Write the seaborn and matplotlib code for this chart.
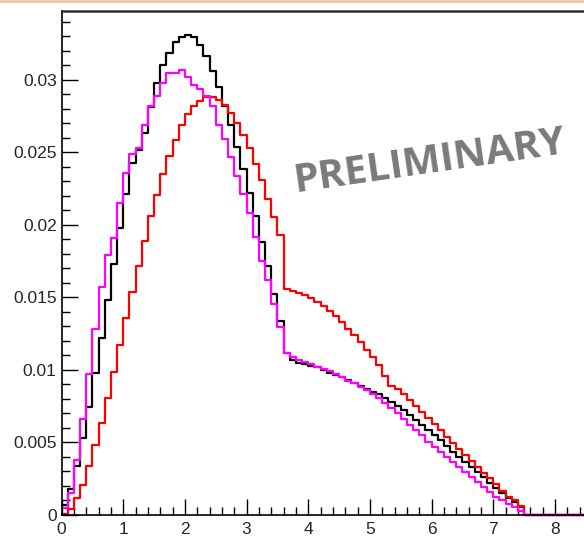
import numpy as np
import pandas as pd
import matplotlib
matplotlib.use("Agg")
import matplotlib.pyplot as plt
import seaborn as sns
from matplotlib.ticker import MultipleLocator, FixedLocator
from matplotlib.patches import Rectangle

# ---------------- data (bin contents, bin width 0.1 starting at 0) ----------------
bin_start = 0.0
bin_width = 0.1

black_vals = [
    0.0007, 0.00178, 0.00335, 0.00529, 0.00745, 0.0098, 0.0122, 0.0148, 0.01733, 0.01977,
    0.02214, 0.0243, 0.02517, 0.02632, 0.02816, 0.02977, 0.0310, 0.03185, 0.03264, 0.03299,
    0.0331, 0.03295, 0.0324, 0.03165, 0.0306, 0.02954, 0.02822, 0.0269, 0.02536, 0.02384,
    0.02223, 0.02062, 0.01885, 0.01715, 0.01524, 0.0134, 0.0112, 0.01069, 0.0105, 0.01039,
    0.01028, 0.01018, 0.01002, 0.0098, 0.00966, 0.00949, 0.00931, 0.00908, 0.0089, 0.00867,
    0.00851, 0.00832, 0.00805, 0.00782, 0.00752, 0.00724, 0.0069, 0.00655, 0.00621, 0.00586,
    0.00552, 0.00517, 0.00476, 0.00437, 0.00402, 0.00368, 0.00333, 0.00299, 0.00264, 0.00223,
    0.00184, 0.00149, 0.00115, 0.00092, 0.00057,
    0.0, 0.0, 0.0, 0.0, 0.0, 0.0, 0.0, 0.0, 0.0, 0.0,
]

magenta_vals = [
    0.00046, 0.00155, 0.0038, 0.0066, 0.0097, 0.0128, 0.0157, 0.0179, 0.0191, 0.0215,
    0.0236, 0.0249, 0.0253, 0.0269, 0.0282, 0.0289, 0.0298, 0.0305, 0.0305, 0.0307,
    0.0302, 0.02966, 0.0294, 0.0289, 0.0282, 0.0269, 0.0259, 0.0247, 0.0234, 0.0221,
    0.0208, 0.0192, 0.0175, 0.0162, 0.01453, 0.01294, 0.0112, 0.01087, 0.0107, 0.01057,
    0.01041, 0.0102, 0.0101, 0.00995, 0.00972, 0.00949, 0.00926, 0.00908, 0.00885, 0.00862,
    0.00835, 0.00805, 0.0077, 0.00736, 0.00701, 0.00664, 0.00621, 0.00586, 0.00552, 0.00506,
    0.00471, 0.00437, 0.00402, 0.00368, 0.00333, 0.00299, 0.00264, 0.0023, 0.00195, 0.00161,
    0.00126, 0.00103, 0.00076, 0.00057, 0.0003,
    0.0, 0.0, 0.0, 0.0, 0.0, 0.0, 0.0, 0.0, 0.0, 0.0,
]

red_vals = [
    0.0001, 0.0004, 0.00115, 0.0021, 0.00335, 0.0048, 0.00637, 0.00805, 0.00989, 0.0117,
    0.01356, 0.0154, 0.01717, 0.01892, 0.0206, 0.02207, 0.02352, 0.02476, 0.02586, 0.0269,
    0.02763, 0.02823, 0.02855, 0.0288, 0.02885, 0.02862, 0.02828, 0.02775, 0.02706, 0.02621,
    0.02529, 0.02421, 0.0231, 0.02177, 0.02057, 0.01931, 0.01556, 0.01545, 0.01533, 0.01517,
    0.01494, 0.01471, 0.01441, 0.01405, 0.01372, 0.0133, 0.01285, 0.01239, 0.01195, 0.0114,
    0.0109, 0.01037, 0.00959, 0.0089, 0.00867, 0.00834, 0.00793, 0.00752, 0.00713, 0.00667,
    0.00628, 0.00586, 0.0054, 0.00499, 0.00453, 0.00414, 0.00372, 0.00333, 0.00292, 0.00253,
    0.00212, 0.00168, 0.00126, 0.00103, 0.00062,
    0.0, 0.0, 0.0, 0.0, 0.0, 0.0, 0.0, 0.0, 0.0, 0.0,
]

series_names = ["black", "red", "magenta"]
series_colors = ["#000000", "#ff0000", "#ff00ff"]

x_ticks = [0, 1, 2, 3, 4, 5, 6, 7, 8]
x_tick_labels = ["0", "1", "2", "3", "4", "5", "6", "7", "8"]
y_ticks = [0, 0.005, 0.01, 0.015, 0.02, 0.025, 0.03]
y_tick_labels = ["0", "0.005", "0.01", "0.015", "0.02", "0.025", "0.03"]

watermark = "PRELIMINARY"

# ---------------- build table ----------------
nb = len(black_vals)
edges = bin_start + bin_width * np.arange(nb + 1)
centers = 0.5 * (edges[:-1] + edges[1:])
df = pd.concat([
    pd.DataFrame({"x": centers, "w": black_vals, "s": "black"}),
    pd.DataFrame({"x": centers, "w": red_vals, "s": "red"}),
    pd.DataFrame({"x": centers, "w": magenta_vals, "s": "magenta"}),
], ignore_index=True)

# ---------------- figure ----------------
sns.set_style("ticks")
plt.rcParams["font.family"] = ["Liberation Sans", "DejaVu Sans"]

W, H = 584, 539
fig = plt.figure(figsize=(W / 100, H / 100), dpi=100)
left_px, bottom_px, top_px = 61.5, 515.0, 11.0
ax = fig.add_axes([left_px / W, (H - bottom_px) / H, (W - left_px) / W, (bottom_px - top_px) / H])

for name, col in zip(series_names, series_colors):
    sub = df[df["s"] == name]
    sns.histplot(data=sub, x="x", weights="w", binwidth=bin_width,
                 binrange=(float(edges[0]), float(edges[-1])), element="step", fill=False,
                 color=col, linewidth=1.6, ax=ax, legend=False)

for ln in ax.lines:
    ln.set_clip_on(False)

ax.set_xlim(0, 8.47)
ax.set_ylim(0, 0.03475)
ax.set_xlabel("")
ax.set_ylabel("")

ax.xaxis.set_major_locator(FixedLocator(x_ticks))
ax.set_xticklabels(x_tick_labels)
ax.xaxis.set_minor_locator(MultipleLocator(0.2))
ax.yaxis.set_major_locator(FixedLocator(y_ticks))
ax.set_yticklabels(y_tick_labels)
ax.yaxis.set_minor_locator(MultipleLocator(0.001))

ax.tick_params(which="both", direction="in", color="black", width=1.0,
               top=False, right=False)
ax.tick_params(which="major", length=11.5, labelsize=12.5, pad=3.5)
ax.tick_params(which="minor", length=6.0)
ax.tick_params(axis="x", which="major", pad=5)

for side in ["left", "bottom"]:
    ax.spines[side].set_color("black")
    ax.spines[side].set_linewidth(1.2)
ax.spines["right"].set_visible(False)
ax.spines["top"].set_visible(True)
ax.spines["top"].set_color("#303030")
ax.spines["top"].set_linewidth(1.8)

# watermark
ax.text((430 - left_px) / (W - left_px), (bottom_px - 162) / (bottom_px - top_px), watermark,
        transform=ax.transAxes, rotation=8.3,
        fontsize=29, fontweight="bold", color="#7a7a7a", ha="center", va="center",
        family=["Open Sans", "DejaVu Sans"])

# thin peach strip at the very top of the image
fig.patches.append(Rectangle((0, 1 - 2.5 / H), 1, 2.5 / H, transform=fig.transFigure,
                             facecolor="#eccaa8", edgecolor="none", zorder=0))

fig.savefig("out.png", dpi=100)
